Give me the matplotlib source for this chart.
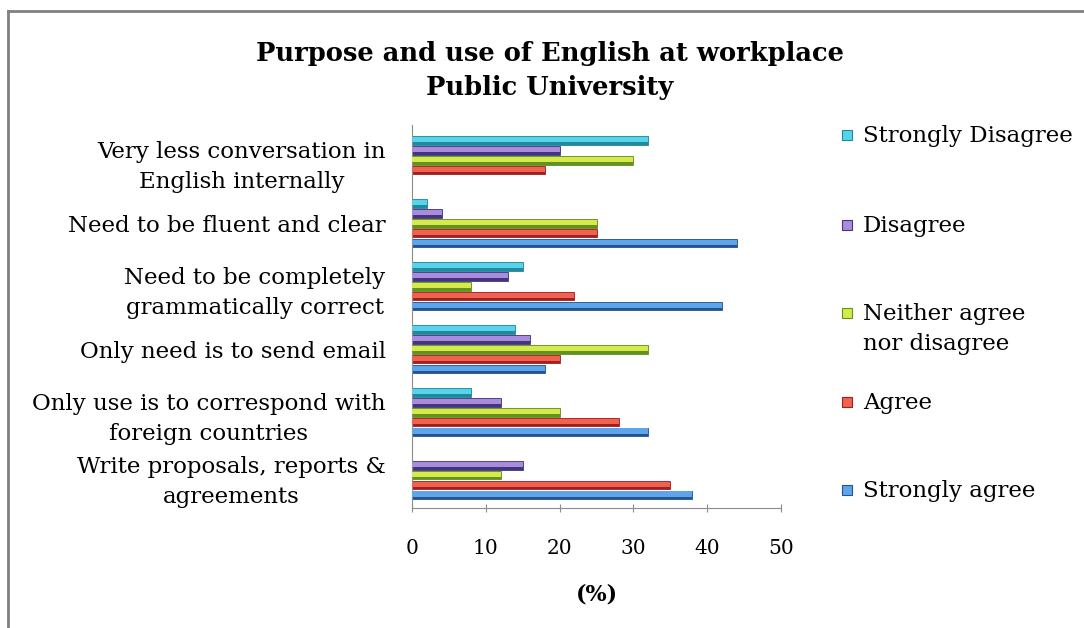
import matplotlib
matplotlib.use("Agg")
import matplotlib.pyplot as plt
from matplotlib.patches import Rectangle
from matplotlib.lines import Line2D
import numpy as np

plt.rcParams['font.family'] = ['DejaVu Serif']

# Survey statements, bottom to top
categories = [
    "Write proposals, reports &\nagreements",
    "Only use is to correspond with\nforeign countries",
    "Only need is to send email",
    "Need to be completely\ngrammatically correct",
    "Need to be fluent and clear",
    "Very less conversation in\nEnglish internally",
]

# Responses (%) per statement, same order as categories
strongly_agree = [38, 32, 18, 42, 44, 0]
agree = [35, 28, 20, 22, 25, 18]
neither = [12, 20, 32, 8, 25, 30]
disagree = [15, 12, 16, 13, 4, 20]
strongly_disagree = [0, 8, 14, 15, 2, 32]

series_names = ["Strongly agree", "Agree", "Neither agree\nnor disagree",
                "Disagree", "Strongly Disagree"]
series_values = [strongly_agree, agree, neither, disagree, strongly_disagree]
# (light face, dark edge) per series
series_colors = [("#5ea4ea", "#24548f"),
                 ("#f2604f", "#9e2121"),
                 ("#d6ea4c", "#64921e"),
                 ("#a98cdc", "#44357f"),
                 ("#55d4ec", "#22889c")]

x_ticks = [0, 10, 20, 30, 40, 50]

W, H = 1084, 628
fig = plt.figure(figsize=(W / 100, H / 100), dpi=100)
fig.patch.set_facecolor("white")

ax = fig.add_axes([412 / W, 1 - 508 / H, (781 - 412) / W, (508 - 125) / H])

y = np.arange(len(categories))
step = 0.158
bar_h = 0.135
for i, (vals, (light, dark)) in enumerate(zip(series_values, series_colors)):
    offs = y + (i - 2) * step
    # dark base bar
    ax.barh(offs, vals, height=bar_h, color=dark, edgecolor=dark,
            linewidth=0.6, zorder=2)
    # lighter upper face for a bevelled look
    ax.barh(offs + bar_h * 0.12, vals, height=bar_h * 0.62, color=light,
            linewidth=0, zorder=3)

ax.set_xlim(0, 50)
ax.set_ylim(-0.52, 5.56)
ax.set_xticks(x_ticks)
ax.set_xticklabels([str(t) for t in x_ticks], fontsize=14.5)
ax.set_yticks(y)
ax.set_yticklabels(categories, fontsize=16.5, ha="right",
                   multialignment="center", linespacing=1.5)
ax.tick_params(axis="y", length=0, pad=19)
ax.tick_params(axis="x", length=6, direction="inout", color="#8c8c8c",
               pad=19)
for s in ["top", "right"]:
    ax.spines[s].set_visible(False)
ax.spines["left"].set_color("#8c8c8c")
ax.spines["bottom"].set_color("#8c8c8c")
ax.set_xlabel("(%)", fontsize=16, fontweight="bold", labelpad=19)

fig.text(550 / W, 1 - 53 / H, "Purpose and use of English at workplace",
         ha="center", va="center", fontsize=18.5, fontweight="bold")
fig.text(550 / W, 1 - 88 / H, "Public University",
         ha="center", va="center", fontsize=18.5, fontweight="bold")

# Legend, top entry first
legend_y = [490, 402, 313, 225, 135]
for name, (light, dark), ly in zip(series_names, series_colors, legend_y):
    fig.patches.append(Rectangle((842 / W, 1 - (ly + 5) / H), 10 / W, 10 / H,
                                 transform=fig.transFigure,
                                 facecolor=light, edgecolor=dark,
                                 linewidth=0.8))
    fig.text(863 / W, 1 - (ly - 10) / H, name, ha="left", va="top",
             fontsize=16.5, linespacing=1.45)

# outer frame
fig.add_artist(Line2D([8 / W, 1], [1 - 11 / H, 1 - 11 / H],
                      transform=fig.transFigure, color="#808080", lw=2))
fig.add_artist(Line2D([8 / W, 8 / W], [0, 1 - 11 / H],
                      transform=fig.transFigure, color="#808080", lw=2))

fig.savefig("out.png", dpi=100)
